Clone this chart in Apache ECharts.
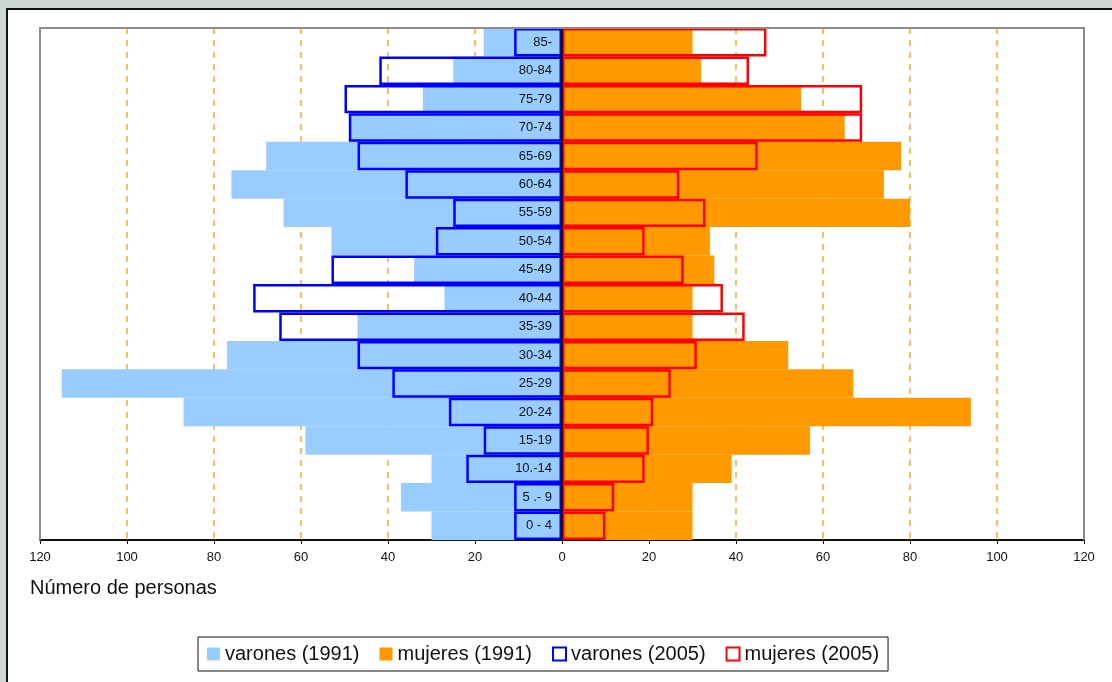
<!DOCTYPE html>
<html>
<head>
<meta charset="utf-8">
<script src="https://cdn.jsdelivr.net/npm/echarts@6/dist/echarts.min.js"></script>
<style>
html,body{margin:0;padding:0;background:#CCD9D2;}
#frame{position:absolute;left:6px;top:8px;width:1120px;height:690px;background:#fff;border-left:2px solid #111;border-top:2px solid #111;}
#chart{position:absolute;left:0;top:0;width:1112px;height:682px;}
</style>
</head>
<body>
<div id="frame"></div>
<div id="chart"></div>
<script>
const ageGroups = ['0 - 4','5 .- 9','10.-14','15-19','20-24','25-29','30-34','35-39','40-44','45-49','50-54','55-59','60-64','65-69','70-74','75-79','80-84','85-'];
const varones1991 = [30,37,30,59,87,115,77,47,27,34,53,64,76,68,49,32,25,18];
const mujeres1991 = [30,30,39,57,94,67,52,30,30,35,34,80,74,78,65,55,32,30];
const varones2005 = [11,11,22,18,26,39,47,65,71,53,29,25,36,47,49,50,42,11];
const mujeres2005 = [10,12,19,20,21,25,31,42,37,28,19,33,27,45,69,69,43,47];
const xMin = -120, xMax = 120, xStep = 20;
</script>
<script>
const FONT = "'Liberation Sans', Arial, sans-serif";
const GRID_L = 40, GRID_R = 28, GRID_T = 28, GRID_B = 142, W = 1112, H = 682;
const plotW = W - GRID_L - GRID_R;
const plotB = H - GRID_B;
const chart = echarts.init(document.getElementById('chart'), null, {renderer:'canvas'});
const neg = a => a.map(v => -v);
chart.setOption({
  animation:false,
  backgroundColor:'transparent',
  grid:{left:GRID_L,right:GRID_R,top:GRID_T,bottom:GRID_B,containLabel:false,outerBoundsMode:'none',show:false},
  xAxis:{type:'value',min:xMin,max:xMax,interval:xStep,
    axisLine:{show:true,onZero:false,lineStyle:{color:'#111',width:2}},
    axisTick:{show:true,length:4,lineStyle:{color:'#111'}},
    axisLabel:{formatter:v=>String(Math.abs(v)),fontFamily:FONT,fontSize:13,color:'#111',margin:11},
    splitLine:{show:true,lineStyle:{color:'#FFA726',type:[6,6],width:1.5}}
  },
  yAxis:{type:'category',data:ageGroups,z:10,position:'left',offset:-(plotW*(0-xMin)/(xMax-xMin)),
    axisLine:{show:true,onZero:false,lineStyle:{color:'#111',width:2}},
    axisTick:{show:true,length:3,lineStyle:{color:'#111'}},
    axisLabel:{fontFamily:FONT,fontSize:13,color:'#111',margin:10},
    splitLine:{show:false}
  },
  legend:{left:198,top:637,orient:'horizontal',padding:[7,9],itemGap:20,itemWidth:13,itemHeight:13,
    borderColor:'#111',borderWidth:1,backgroundColor:'#fff',
    textStyle:{fontFamily:FONT,fontSize:20,color:'#111'},
    data:[
      {name:'varones (1991)',icon:'rect',itemStyle:{color:'#99CCFF',borderWidth:0}},
      {name:'mujeres (1991)',icon:'rect',itemStyle:{color:'#FF9900',borderWidth:0}},
      {name:'varones (2005)',icon:'rect',itemStyle:{color:'#fff',borderColor:'#0000FF',borderWidth:2}},
      {name:'mujeres (2005)',icon:'rect',itemStyle:{color:'#fff',borderColor:'#FF0000',borderWidth:2}}
    ]},
  graphic:[
    {type:'text',left:30,top:578,style:{text:'Número de personas',font:'20px '+FONT,fill:'#111'}},
    {type:'polyline',z:50,silent:true,shape:{points:[[GRID_L,plotB],[GRID_L,GRID_T],[W-GRID_R,GRID_T],[W-GRID_R,plotB]]},style:{stroke:'#8c8c8c',lineWidth:2,fill:null}}
  ],
  series:[
    {name:'varones (1991)',type:'bar',data:neg(varones1991),barGap:'-100%',barCategoryGap:'0%',itemStyle:{color:'#99CCFF'},z:2},
    {name:'mujeres (1991)',type:'bar',data:mujeres1991,barGap:'-100%',barCategoryGap:'0%',itemStyle:{color:'#FF9900'},z:2},
    {name:'varones (2005)',type:'bar',data:neg(varones2005),barGap:'-100%',barCategoryGap:'0%',itemStyle:{color:'rgba(0,0,0,0)',borderColor:'#0000FF',borderWidth:2.5},z:3},
    {name:'mujeres (2005)',type:'bar',data:mujeres2005,barGap:'-100%',barCategoryGap:'0%',itemStyle:{color:'rgba(0,0,0,0)',borderColor:'#FF0000',borderWidth:2.5},z:3}
  ]
});
</script>
</body>
</html>
